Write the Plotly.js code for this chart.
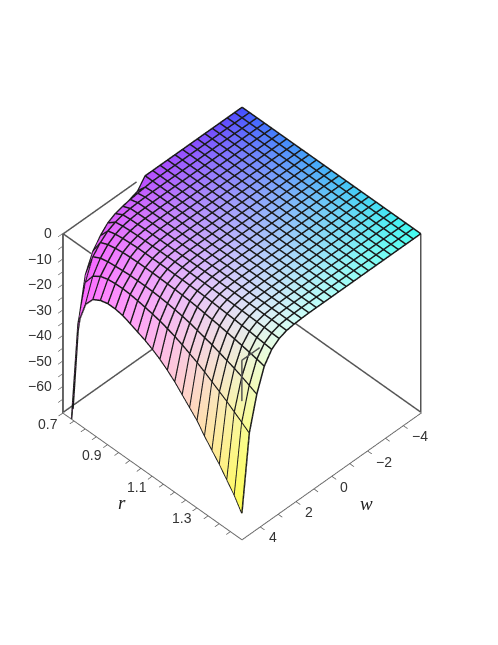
<!DOCTYPE html>
<html>
<head>
<meta charset="utf-8">
<script src="https://cdn.plot.ly/plotly-3.0.1.min.js"></script>
<style>html,body{margin:0;padding:0;background:#fff}</style>
</head>
<body>
<div id="chart" style="width:498px;height:645px"></div>
<script>
// grid lines of the surface, 25 x 25
var rValues = [0.7,0.7333,0.7667,0.8,0.8333,0.8667,0.9,0.9333,0.9667,1.0,1.0333,1.0667,1.1,1.1333,1.1667,1.2,1.2333,1.2667,1.3,1.3333,1.3667,1.4,1.4333,1.4667,1.5];
var wValues = [5,4.5833,4.1667,3.75,3.3333,2.9167,2.5,2.0833,1.6667,1.25,0.8333,0.4167,0,-0.4167,-0.8333,-1.25,-1.6667,-2.0833,-2.5,-2.9167,-3.3333,-3.75,-4.1667,-4.5833,-5];

// one row per w, one column per r
var zValues = [
[-300,-76,-31,-21.5,-17.5,-15.8,-15,-15,-15.5,-16.6,-17.8,-19,-20.5,-22.3,-24.5,-27,-30,-33,-36,-40,-43.5,-47,-51,-55,-60],
[-85,-38,-17,-12.5,-10.5,-9.6,-9.2,-9.1,-9.3,-9.7,-10.2,-10.8,-11.5,-12.4,-13.4,-14.6,-16,-17.4,-19,-20.8,-22.6,-24.4,-26.4,-28.4,-30.5],
[-40,-18,-9,-7.5,-6.8,-6.5,-6.2,-6,-6,-6,-6.1,-6.3,-6.6,-7,-7.5,-8.1,-8.9,-9.7,-10.5,-11.5,-12.5,-13.5,-14.7,-16,-17.4],
[-29,-11,-5.5,-4.2,-3.6,-3.2,-3,-2.9,-2.9,-2.9,-3,-3.1,-3.2,-3.4,-3.6,-3.9,-4.3,-4.7,-5.1,-5.6,-6.1,-6.6,-7.2,-7.8,-8.5],
[-18.5,-7,-3,-2.2,-1.8,-1.6,-1.4,-1.4,-1.4,-1.4,-1.4,-1.5,-1.5,-1.6,-1.7,-1.8,-2,-2.2,-2.4,-2.6,-2.9,-3.1,-3.4,-3.7,-4],
[-11,-4,-1.6,-1.1,-0.9,-0.75,-0.7,-0.7,-0.65,-0.65,-0.65,-0.7,-0.7,-0.75,-0.8,-0.85,-0.9,-1,-1.1,-1.2,-1.3,-1.4,-1.55,-1.7,-1.8],
[-8.5,-2.4,-0.8,-0.5,-0.4,-0.3,-0.3,-0.3,-0.3,-0.3,-0.3,-0.3,-0.3,-0.3,-0.3,-0.35,-0.4,-0.4,-0.45,-0.5,-0.5,-0.6,-0.6,-0.65,-0.7],
[-7.8,-1.6,-0.4,-0.2,-0.15,-0.1,-0.1,-0.1,-0.1,-0.1,-0.1,-0.1,-0.1,-0.1,-0.1,-0.15,-0.15,-0.15,-0.2,-0.2,-0.2,-0.25,-0.25,-0.3,-0.3],
[-6,-1,-0.2,-0.1,-0.1,-0.05,-0.05,-0.05,-0.05,-0.05,-0.05,-0.05,-0.05,-0.05,-0.05,-0.05,-0.05,-0.05,-0.1,-0.1,-0.1,-0.1,-0.1,-0.1,-0.1],
[-5,-0.6,-0.1,0,0,0,0,0,0,0,0,0,0,0,0,0,0,0,0,0,0,0,0,0,0],
[-3.9,-0.3,0,0,0,0,0,0,0,0,0,0,0,0,0,0,0,0,0,0,0,0,0,0,0],
[0,0,0,0,0,0,0,0,0,0,0,0,0,0,0,0,0,0,0,0,0,0,0,0,0],
[0,0,0,0,0,0,0,0,0,0,0,0,0,0,0,0,0,0,0,0,0,0,0,0,0],
[0,0,0,0,0,0,0,0,0,0,0,0,0,0,0,0,0,0,0,0,0,0,0,0,0],
[0,0,0,0,0,0,0,0,0,0,0,0,0,0,0,0,0,0,0,0,0,0,0,0,0],
[0,0,0,0,0,0,0,0,0,0,0,0,0,0,0,0,0,0,0,0,0,0,0,0,0],
[0,0,0,0,0,0,0,0,0,0,0,0,0,0,0,0,0,0,0,0,0,0,0,0,0],
[0,0,0,0,0,0,0,0,0,0,0,0,0,0,0,0,0,0,0,0,0,0,0,0,0],
[0,0,0,0,0,0,0,0,0,0,0,0,0,0,0,0,0,0,0,0,0,0,0,0,0],
[0,0,0,0,0,0,0,0,0,0,0,0,0,0,0,0,0,0,0,0,0,0,0,0,0],
[0,0,0,0,0,0,0,0,0,0,0,0,0,0,0,0,0,0,0,0,0,0,0,0,0],
[0,0,0,0,0,0,0,0,0,0,0,0,0,0,0,0,0,0,0,0,0,0,0,0,0],
[0,0,0,0,0,0,0,0,0,0,0,0,0,0,0,0,0,0,0,0,0,0,0,0,0],
[0,0,0,0,0,0,0,0,0,0,0,0,0,0,0,0,0,0,0,0,0,0,0,0,0],
[0,0,0,0,0,0,0,0,0,0,0,0,0,0,0,0,0,0,0,0,0,0,0,0,0]
];

var rTicks = [0.7,0.75,0.8,0.85,0.9,0.95,1.0,1.05,1.1,1.15,1.2,1.25,1.3,1.35,1.4,1.45];
var wTicks = [-4,-3,-2,-1,0,1,2,3,4];
var zTicks = [0,-5,-10,-15,-20,-25,-30,-35,-40,-45,-50,-55,-60,-65];
var rLabelled = [0.7,0.9,1.1,1.3];
var wLabelled = [-4,-2,0,2,4];
var zLabelled = [0,-10,-20,-30,-40,-50,-60];

// box edges the axes do not draw
var edgeW = [-5,-5,-5,null,5,-5,null,5,5,null,5,5,null,5,4,null,5,0.9,null,5,5];
var edgeR = [1.5,1.5,0.7,null,0.7,0.7,null,0.7,0.7,null,1.5,1.5,null,1.5,1.5,null,0.7,0.7,null,0.7,0.825];
var edgeZ = [0,-70,-70,null,-70,-70,null,0,-70,null,0,-16,null,0,0,null,0,0,null,0,0];

// flatten the grid for mesh3d, colour runs corner to corner
var px = [], py = [], pz = [], colors = [], ti = [], tj = [], tk = [];
var nw = wValues.length, nr = rValues.length;
for (var a = 0; a < nw; a++) {
  for (var b = 0; b < nr; b++) {
    px.push(wValues[a]);
    py.push(rValues[b]);
    pz.push(zValues[a][b] - 0.25); // sits just under the mesh lines
    var t0 = (wValues[a] + 5) / 10;
    var s0 = (rValues[b] - 0.7) / 0.8;
    var red = 65 + 190 * Math.pow(t0, 0.75);
    var green = 75 + 180 * Math.pow(s0, 0.75);
    var blue = 255 - 15 * s0 * (1 - t0) - 175 * Math.pow(s0, 3) * Math.pow(t0, 10);
    colors.push('rgb(' + Math.round(red) + ',' + Math.round(green) + ',' + Math.round(blue) + ')');
    if (a < nw - 1 && b < nr - 1) {
      var n = a * nr + b;
      ti.push(n, n + 1);
      tj.push(n + 1, n + nr + 1);
      tk.push(n + nr, n + nr);
    }
  }
}

// mesh lines, null breaks the pen
var lx = [], ly = [], lz = [];
for (a = 0; a < nw; a++) {
  for (b = 0; b < nr; b++) { lx.push(wValues[a]); ly.push(rValues[b]); lz.push(zValues[a][b]); }
  lx.push(null); ly.push(null); lz.push(null);
}
for (b = 0; b < nr; b++) {
  for (a = 0; a < nw; a++) { lx.push(wValues[a]); ly.push(rValues[b]); lz.push(zValues[a][b]); }
  lx.push(null); ly.push(null); lz.push(null);
}

var surface = {
  type: 'mesh3d', x: px, y: py, z: pz, i: ti, j: tj, k: tk,
  vertexcolor: colors, flatshading: false, hoverinfo: 'skip', showscale: false,
  lighting: {ambient: 1, diffuse: 0, specular: 0, roughness: 1, fresnel: 0}
};
var mesh = {
  type: 'scatter3d', mode: 'lines', x: lx, y: ly, z: lz, connectgaps: false,
  line: {color: '#1a1a1a', width: 3}, hoverinfo: 'skip', showlegend: false
};
var edges = {
  type: 'scatter3d', mode: 'lines', x: edgeW, y: edgeR, z: edgeZ, connectgaps: false,
  line: {color: '#555', width: 3}, hoverinfo: 'skip', showlegend: false
};

function axis(range, vals) {
  return {
    title: {text: ''},
    range: range, autorange: false, tickmode: 'array', tickvals: vals,
    showticklabels: false,
    ticks: 'outside', ticklen: 6, tickcolor: '#555', tickwidth: 1.5,
    showline: true, linecolor: '#666', linewidth: 2, mirror: false,
    showgrid: false, zeroline: false, showbackground: false, showspikes: false
  };
}

function note(text, w, r, z, dx, dy, anchor, font) {
  return {
    x: w, y: r, z: z, text: text, showarrow: false, xshift: dx, yshift: dy, xanchor: anchor,
    font: font
  };
}

var tickFont = {family: 'Liberation Sans', size: 14, color: '#333'};
var nameFont = {family: 'Liberation Serif', size: 19, color: '#222'};
var notes = [note('<i>r</i>', 5, 1.1, -70, -31, -28, 'center', nameFont), note('<i>w</i>', 0, 1.5, -70, 35, -29, 'center', nameFont)];
rLabelled.forEach(function(v) { notes.push(note(v.toFixed(1), 5, v, -70, -15.5, -12, 'center', tickFont)); });
wLabelled.forEach(function(v) { notes.push(note(String(v).replace('-', '\u2212'), v, 1.5, -70, 7, -12, 'left', tickFont)); });
zLabelled.forEach(function(v) { notes.push(note(String(v).replace('-', '\u2212'), 5, 0.7, v, -9, 0, 'right', tickFont)); });

var layout = {
  width: 498, height: 645, margin: {l: 0, r: 0, t: 0, b: 0},
  paper_bgcolor: '#fff', showlegend: false,
  scene: {
    domain: {x: [0, 0.972], y: [0.1065, 0.8935]},
    xaxis: axis([-5.02, 5.02], wTicks),
    yaxis: axis([0.698, 1.502], rTicks),
    zaxis: axis([-70.2, 0.2], zTicks),
    aspectmode: 'manual', aspectratio: {x: 1, y: 1, z: 1},
    annotations: notes,
    camera: {
      projection: {type: 'orthographic'},
      center: {x: 0, y: 0, z: 0},
      up: {x: 0, y: 0, z: 1},
      eye: {x: 1.25, y: 1.25, z: 1.77}
    }
  }
};

Plotly.newPlot('chart', [surface, mesh, edges], layout, {displayModeBar: false});
</script>
</body>
</html>
